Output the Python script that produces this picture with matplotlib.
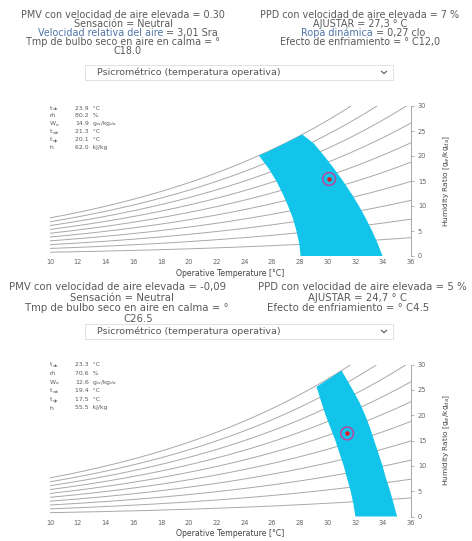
import numpy as np
import matplotlib
matplotlib.use("Agg")
import matplotlib.pyplot as plt
from matplotlib.patches import Polygon, Rectangle
from matplotlib.lines import Line2D

plt.rcParams['font.family'] = ['DejaVu Sans']

W_PX, H_PX = 472, 541

# ---- data ----
rh_levels = [10, 20, 30, 40, 50, 60, 70, 80, 90, 100]
t_range = (10, 36)
w_range = (0, 30)
x_ticks = [10, 12, 14, 16, 18, 20, 22, 24, 26, 28, 30, 32, 34, 36]
y_ticks = [0, 5, 10, 15, 20, 25, 30]

# comfort zone outlines (operative temp, humidity ratio): left edge up, top edge, right edge down
zone1_t = [28.05, 27.95, 27.75, 27.5, 27.15, 26.75, 26.3, 25.75, 25.04,
           25.8, 26.6, 27.4, 28.17,
           29.0, 29.75, 30.45, 31.1, 31.7, 32.25, 32.75, 33.2, 33.6, 33.95]
zone1_w = [0.0, 2.5, 5.0, 7.5, 10.0, 12.5, 15.0, 17.5, 20.1,
           21.0, 22.1, 23.2, 24.3,
           22.5, 20.0, 17.5, 15.0, 12.5, 10.0, 7.5, 5.0, 2.5, 0.0]
zone2_t = [32.0, 31.85, 31.65, 31.4, 31.15, 30.85, 30.55, 30.2, 29.85, 29.55, 29.2,
           30.1, 31.0,
           31.8, 32.3, 32.7, 33.05, 33.35, 33.65, 33.95, 34.2, 34.5, 34.75, 35.0]
zone2_w = [0.0, 2.5, 5.0, 7.5, 10.0, 12.5, 15.0, 17.5, 20.0, 22.5, 25.6,
           27.2, 28.8,
           25.0, 22.5, 20.0, 17.5, 15.0, 12.5, 10.0, 7.5, 5.0, 2.5, 0.0]

point1 = (30.1, 15.4)
point2 = (31.4, 16.4)

# readout box: symbol, subscript, value
box_symbols = ["t", "rh", "W", "t", "t", "h"]
box_subs = ["db", "", "a", "wb", "dp", ""]
box1_values = ["23.9  °C", "80.2  %", r"14.9  g$_w$/kg$_{da}$", "21.3  °C", "20.1  °C", "62.0  kJ/kg"]
box2_values = ["23.3  °C", "70.6  %", r"12.6  g$_w$/kg$_{da}$", "19.4  °C", "17.5  °C", "55.5  kJ/kg"]

GRAY = "#5a5a5a"
BLUE = "#4f74a8"
ZONE = "#12c4ea"


def fx(px):
    return px / W_PX


def fy(py):
    return 1 - py / H_PX


def w_at_rh(t, rh):
    # humidity ratio g/kg of dry air at given relative humidity
    p_ws = 610.94 * np.exp(17.625 * t / (t + 243.04))
    p_w = rh / 100.0 * p_ws
    return 621.945 * p_w / (101325 - p_w)


def draw_chart(ax, zone_t, zone_w, point):
    t = np.linspace(t_range[0], t_range[1], 300)
    for rh in rh_levels:
        ax.plot(t, w_at_rh(t, rh), color="#a8a8a8", lw=0.7, zorder=1)
    ax.add_patch(Polygon(list(zip(zone_t, zone_w)), closed=True,
                         facecolor=ZONE, edgecolor="none", zorder=2))
    ax.scatter([point[0]], [point[1]], s=85, facecolor="none",
               edgecolor="#b8479e", lw=1.1, zorder=4)
    ax.scatter([point[0]], [point[1]], s=5, color="#e01b24", zorder=5)
    ax.set_xlim(*t_range)
    ax.set_ylim(*w_range)
    ax.set_xticks(x_ticks)
    ax.set_yticks(y_ticks)
    ax.yaxis.tick_right()
    ax.yaxis.set_label_position("right")
    for s in ["top", "left", "bottom"]:
        ax.spines[s].set_visible(False)
    ax.spines["right"].set_color("#999999")
    ax.spines["right"].set_linewidth(0.6)
    ax.tick_params(axis="x", length=0, labelsize=4.8, labelcolor="#666666", pad=2.5)
    ax.tick_params(axis="y", length=2, width=0.5, color="#999999",
                   labelsize=4.8, labelcolor="#666666", pad=3)
    ax.set_xlabel("Operative Temperature [°C]", fontsize=5.6, color="#444444", labelpad=2.5)
    ax.set_ylabel(r"Humidity Ratio [g$_w$/kg$_{da}$]", fontsize=5.3, color="#444444",
                  rotation=90, labelpad=11)


def draw_box(fig, y0, values, step):
    for i, (sym, sub, val) in enumerate(zip(box_symbols, box_subs, values)):
        y = y0 + i * step
        fig.text(fx(50), fy(y), sym, fontsize=4.4, color=GRAY, va="center")
        if sub:
            sub_x = 55.5 if sym == "W" else 53
            fig.text(fx(sub_x), fy(y + 1.2), sub, fontsize=3.1, color=GRAY, va="center")
        fig.text(fx(75), fy(y), val, fontsize=4.4, color=GRAY, va="center")


def draw_dropdown(fig, x0, x1, y0, y1):
    fig.patches.append(Rectangle((fx(x0), fy(y1)), fx(x1) - fx(x0), fy(y0) - fy(y1),
                                 transform=fig.transFigure, facecolor="white",
                                 edgecolor="#dcdcdc", lw=0.6))
    fig.text(fx(x0 + 12), fy((y0 + y1) / 2), "Psicrométrico (temperatura operativa)",
             fontsize=6.8, color="#555555", va="center", ha="left")
    cx, cy = x1 - 9, (y0 + y1) / 2
    fig.lines.append(Line2D([fx(cx - 2.5), fx(cx), fx(cx + 2.5)],
                            [fy(cy - 1.2), fy(cy + 1.2), fy(cy - 1.2)],
                            transform=fig.transFigure, color="#555555", lw=0.8))


fig = plt.figure(figsize=(W_PX / 100, H_PX / 100), dpi=100)

# ---- upper block ----
fs1 = 6.9
fig.text(fx(123), fy(15), "PMV con velocidad de aire elevada = 0.30", fontsize=fs1, color=GRAY, ha="center", va="center")
fig.text(fx(123), fy(24), "Sensación = Neutral", fontsize=fs1, color=GRAY, ha="center", va="center")
fig.text(fx(163), fy(33), "Velocidad relativa del aire", fontsize=fs1, color=BLUE, ha="right", va="center")
fig.text(fx(163), fy(33), " = 3,01 Sra", fontsize=fs1, color=GRAY, ha="left", va="center")
fig.text(fx(123), fy(42), "Tmp de bulbo seco en aire en calma = °", fontsize=fs1, color=GRAY, ha="center", va="center")
fig.text(fx(128), fy(51), "C18.0", fontsize=fs1, color=GRAY, ha="center", va="center")
fig.text(fx(360), fy(15), "PPD con velocidad de aire elevada = 7 %", fontsize=fs1, color=GRAY, ha="center", va="center")
fig.text(fx(360), fy(24), "AJUSTAR = 27,3 ° C", fontsize=fs1, color=GRAY, ha="center", va="center")
fig.text(fx(373), fy(33), "Ropa dinámica", fontsize=fs1, color=BLUE, ha="right", va="center")
fig.text(fx(373), fy(33), " = 0,27 clo", fontsize=fs1, color=GRAY, ha="left", va="center")
fig.text(fx(360), fy(42), "Efecto de enfriamiento = ° C12,0", fontsize=fs1, color=GRAY, ha="center", va="center")
draw_dropdown(fig, 85, 393, 65, 80)

ax1 = fig.add_axes([fx(50), fy(256), fx(411) - fx(50), fy(106) - fy(256)])
draw_chart(ax1, zone1_t, zone1_w, point1)
draw_box(fig, 108, box1_values, 7.9)

# ---- lower block ----
fs2 = 7.3
fig.text(fx(118), fy(287), "PMV con velocidad de aire elevada = -0,09", fontsize=fs2, color=GRAY, ha="center", va="center")
fig.text(fx(122), fy(298), "Sensación = Neutral", fontsize=fs2, color=GRAY, ha="center", va="center")
fig.text(fx(127), fy(308), "Tmp de bulbo seco en aire en calma = °", fontsize=fs2, color=GRAY, ha="center", va="center")
fig.text(fx(138), fy(319), "C26.5", fontsize=fs2, color=GRAY, ha="center", va="center")
fig.text(fx(362), fy(287), "PPD con velocidad de aire elevada = 5 %", fontsize=fs2, color=GRAY, ha="center", va="center")
fig.text(fx(357), fy(298), "AJUSTAR = 24,7 ° C", fontsize=fs2, color=GRAY, ha="center", va="center")
fig.text(fx(348), fy(308), "Efecto de enfriamiento = ° C4.5", fontsize=fs2, color=GRAY, ha="center", va="center")
draw_dropdown(fig, 85, 393, 324, 339)

ax2 = fig.add_axes([fx(50), fy(516.5), fx(411) - fx(50), fy(364.5) - fy(516.5)])
draw_chart(ax2, zone2_t, zone2_w, point2)
draw_box(fig, 365, box2_values, 8.6)

fig.savefig("out.png", dpi=100)
